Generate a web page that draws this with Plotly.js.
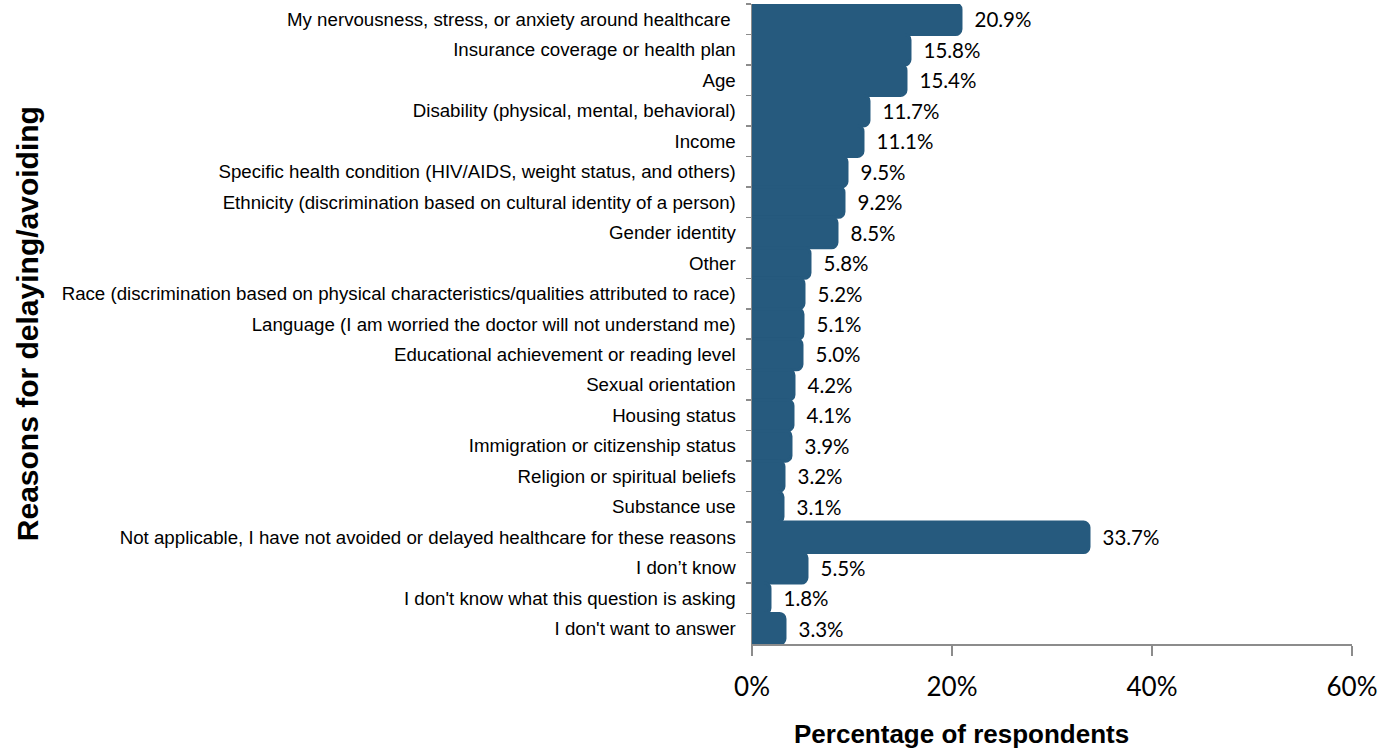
<!DOCTYPE html>
<html>
<head>
<meta charset="utf-8">
<script src="https://cdn.plot.ly/plotly-3.0.1.min.js"></script>
<style>html,body{margin:0;padding:0;background:#fff;}#chart{width:1393px;height:752px;}</style>
</head>
<body>
<div id="chart"></div>
<script>
const categories = [
  "My nervousness, stress, or anxiety around healthcare ",
  "Insurance coverage or health plan",
  "Age",
  "Disability (physical, mental, behavioral)",
  "Income",
  "Specific health condition (HIV/AIDS, weight status, and others)",
  "Ethnicity (discrimination based on cultural identity of a person)",
  "Gender identity",
  "Other",
  "Race (discrimination based on physical characteristics/qualities attributed to race)",
  "Language (I am worried the doctor will not understand me)",
  "Educational achievement or reading level",
  "Sexual orientation",
  "Housing status",
  "Immigration or citizenship status",
  "Religion or spiritual beliefs",
  "Substance use",
  "Not applicable, I have not avoided or delayed healthcare for these reasons",
  "I don\u2019t know",
  "I don't know what this question is asking",
  "I don't want to answer"
];
const percentages = [20.9, 15.8, 15.4, 11.7, 11.1, 9.5, 9.2, 8.5, 5.8, 5.2, 5.1, 5.0, 4.2, 4.1, 3.9, 3.2, 3.1, 33.7, 5.5, 1.8, 3.3];
const xTickValues = [0, 20, 40, 60];
const xTickLabels = ["0%", "20%", "40%", "60%"];
const xTitle = "Percentage of respondents";
const yTitle = "Reasons for delaying/avoiding";

const trace = {
  type: "bar",
  orientation: "h",
  y: categories,
  x: percentages,
  text: percentages.map(v => "\u00a0\u00a0" + v.toFixed(1) + "%"),
  textposition: "outside",
  cliponaxis: false,
  textfont: {family: "Lato, 'Open Sans', sans-serif", size: 20.5, color: "#000"},
  marker: {color: "#265a7e", cornerradius: 6, line: {width: 3, color: "#265a7e"}},
  hoverinfo: "none"
};

const layout = {
  width: 1393, height: 752,
  margin: {l: 752, r: 41, t: 4, b: 108},
  paper_bgcolor: "#fff", plot_bgcolor: "#fff",
  showlegend: false,
  bargap: 0,
  xaxis: {
    range: [0, 60], tickvals: xTickValues, ticktext: xTickLabels,
    showgrid: false, zeroline: false, showline: true, linecolor: "#8c8c8c", linewidth: 1.5,
    ticks: "outside", ticklen: 10, tickcolor: "#8c8c8c", tickwidth: 1.5,
    tickfont: {family: "Lato, 'Open Sans', sans-serif", size: 26, color: "#000"},
    ticklabelstandoff: 9, fixedrange: true
  },
  yaxis: {
    type: "category", autorange: "reversed",
    showgrid: false, zeroline: false, showline: true, linecolor: "#8c8c8c", linewidth: 1.5,
    ticks: "outside", ticklen: 5, tickcolor: "#8c8c8c", tickwidth: 1.5, tickson: "boundaries",
    tickfont: {family: "Arial, 'Liberation Sans', sans-serif", size: 18.7, color: "#000"},
    ticklabelstandoff: 11, automargin: false, fixedrange: true
  },
  annotations: [
    {text: "<b>" + xTitle + "</b>", xref: "paper", yref: "paper", x: 0.349, y: -0.141,
     xanchor: "center", yanchor: "middle", showarrow: false,
     font: {family: "Arial, 'Liberation Sans', sans-serif", size: 26, color: "#000"}},
    {text: "<b>" + yTitle + "</b>", xref: "paper", yref: "paper", x: -1.208, y: 0.5,
     xanchor: "center", yanchor: "middle", textangle: -90, showarrow: false,
     font: {family: "Arial, 'Liberation Sans', sans-serif", size: 30, color: "#000"}}
  ]
};

Plotly.newPlot("chart", [trace], layout, {displayModeBar: false, staticPlot: true});
</script>
</body>
</html>
